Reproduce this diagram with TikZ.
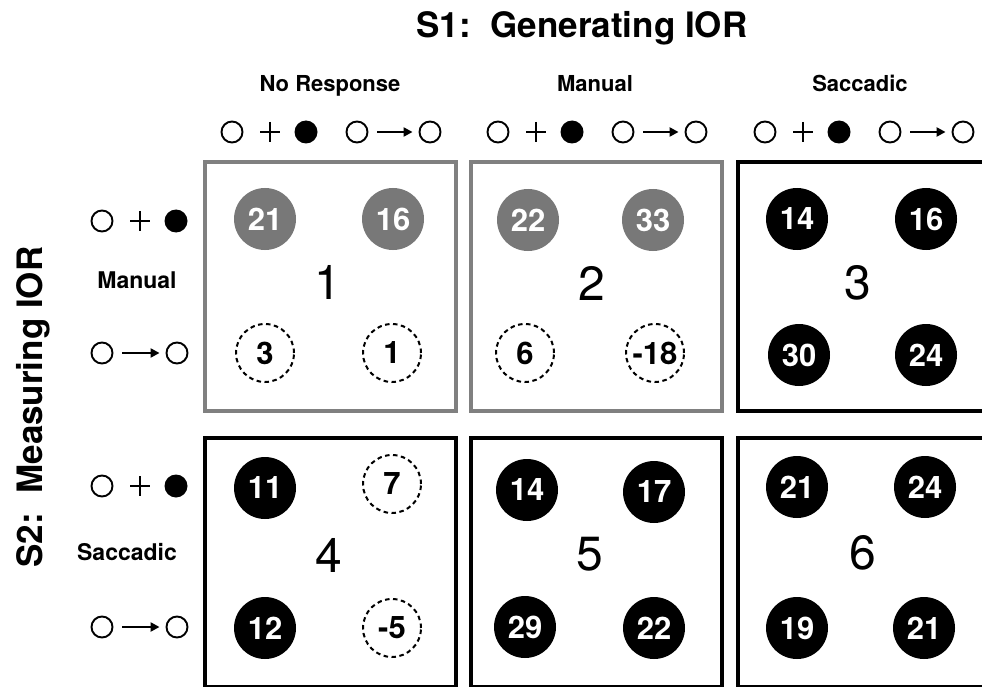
\documentclass[tikz,border=0pt]{standalone}
\usepackage{fontspec}
\setmainfont{TeX Gyre Heros}
\usetikzlibrary{arrows.meta}

\definecolor{dotgray}{RGB}{120,120,120}
\definecolor{framegray}{RGB}{128,128,128}

\begin{document}
\begin{tikzpicture}[x=1pt,y=-1pt,
  panel/.style={draw=black, line width=4pt, minimum width=251pt, minimum height=249pt, inner sep=0pt, anchor=north west},
  panelgray/.style={panel, draw=framegray},
  sigdot/.style={circle, inner sep=0pt, minimum size=62pt, text=white,
    font=\fontsize{31}{31}\selectfont\bfseries},
  graydot/.style={sigdot, fill=dotgray},
  blackdot/.style={sigdot, fill=black},
  nulldot/.style={circle, inner sep=0pt, minimum size=58pt, draw=black, line width=2pt,
    dash pattern=on 4.5pt off 3.5pt, text=black, font=\fontsize{31}{31}\selectfont\bfseries},
  cellnum/.style={inner sep=0pt, font=\fontsize{48}{48}\selectfont},
  ring/.style={circle, draw=black, line width=1.9pt, minimum size=21pt, inner sep=0pt},
  blob/.style={circle, fill=black, minimum size=23pt, inner sep=0pt},
  plussign/.style={inner sep=0pt, minimum width=20pt, minimum height=20pt,
    path picture={\draw[line width=2pt]
      (path picture bounding box.north) -- (path picture bounding box.south)
      (path picture bounding box.west) -- (path picture bounding box.east);}},
  arr/.style={line width=2.8pt, -{Triangle[length=9pt,width=9pt]}, shorten <=9pt, shorten >=6pt},
  head/.style={inner sep=0pt, anchor=base, font=\fontsize{22}{22}\selectfont\bfseries},
  side/.style={inner sep=0pt, font=\fontsize{23}{23}\selectfont\bfseries},
  bigtitle/.style={inner sep=0pt, font=\fontsize{35}{35}\selectfont\bfseries}
]
\useasboundingbox (0,0) rectangle (982,687);
\clip (0,0) rectangle (982,687);
\fill[white] (0,0) rectangle (982,687);

% axis titles
\node[bigtitle, anchor=base] (t1) at (582,38) {S1:~~Generating IOR};
\node[bigtitle, rotate=90, anchor=base] (t2) at (42,407) {S2:~~Measuring IOR};

% column headings
\node[head] (h1) at (330,92) {No Response};
\node[head] (h2) at (595,92) {Manual};
\node[head] (h3) at (860,92) {Saccadic};

% row headings
\node[side] (r1) at (137,280) {Manual};
\node[side] (r2) at (127,552) {Saccadic};

% stimulus symbols above each column
\foreach \i/\x in {1/203,2/469,3/736} {
  \node[ring] (ca\i) at (\x+29,132) {};
  \node[plussign] (cp\i) at (\x+67,132) {};
  \node[blob] (cf\i) at (\x+103,132) {};
  \node[ring] (cb\i) at (\x+154,132) {};
  \node[ring] (cc\i) at (\x+227,132) {};
  \draw[arr] (cb\i) -- (cc\i);
}

% stimulus symbols beside each row
\foreach \j/\ya/\yb in {1/221/353,2/486/627} {
  \node[ring] (ra\j) at (102,\ya) {};
  \node[plussign] (rp\j) at (140,\ya) {};
  \node[blob] (rf\j) at (176,\ya) {};
  \node[ring] (rb\j) at (102,\yb) {};
  \node[ring] (rc\j) at (177,\yb) {};
  \draw[arr] (rb\j) -- (rc\j);
}

% panels
\node[panelgray] (p1) at (203,160) {};
\node[panelgray] (p2) at (469,160) {};
\node[panel] (p3) at (736,160) {};
\node[panel] (p4) at (203,436) {};
\node[panel] (p5) at (469,436) {};
\node[panel] (p6) at (736,436) {};

% panel numbers
\node[cellnum] (n1) at (328,282) {1};
\node[cellnum] (n2) at (592,283) {2};
\node[cellnum] (n3) at (858,283) {3};
\node[cellnum] (n4) at (329,555) {4};
\node[cellnum] (n5) at (590,554) {5};
\node[cellnum] (n6) at (863,553) {6};

% panel 1
\node[graydot] (d11) at (265,219) {21};
\node[graydot] (d12) at (393,219) {16};
\node[nulldot] (d13) at (265,353) {3};
\node[nulldot] (d14) at (392,353) {1};
% panel 2
\node[graydot] (d21) at (528,220) {22};
\node[graydot] (d22) at (653,220) {33};
\node[nulldot] (d23) at (525,353) {6};
\node[nulldot] (d24) at (655,353) {-18};
% panel 3
\node[blackdot] (d31) at (797,219) {14};
\node[blackdot] (d32) at (926,219) {16};
\node[blackdot] (d33) at (799,355) {30};
\node[blackdot] (d34) at (926,355) {24};
% panel 4
\node[blackdot] (d41) at (265,488) {11};
\node[nulldot] (d42) at (392,484) {7};
\node[blackdot] (d43) at (265,628) {12};
\node[nulldot] (d44) at (392,628) {-5};
% panel 5
\node[blackdot] (d51) at (527,490) {14};
\node[blackdot] (d52) at (654,492) {17};
\node[blackdot] (d53) at (525,627) {29};
\node[blackdot] (d54) at (654,628) {22};
% panel 6
\node[blackdot] (d61) at (797,487) {21};
\node[blackdot] (d62) at (925,487) {24};
\node[blackdot] (d63) at (797,628) {19};
\node[blackdot] (d64) at (924,628) {21};
\end{tikzpicture}
\end{document}
